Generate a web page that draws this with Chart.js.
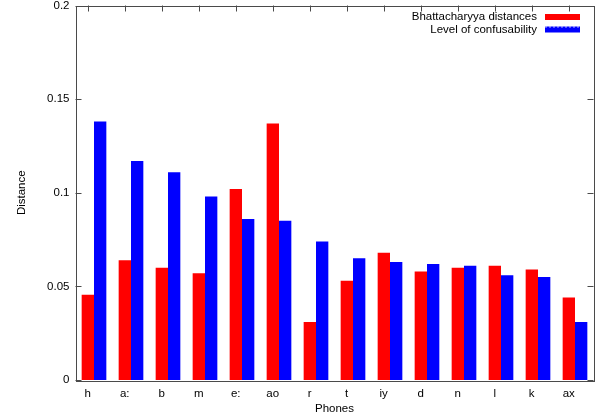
<!DOCTYPE html>
<html>
<head>
<meta charset="utf-8">
<script src="https://cdn.jsdelivr.net/npm/chart.js@4.4.0/dist/chart.umd.min.js"></script>
<style>
html,body{margin:0;padding:0;background:#fff;}
#wrap{width:605px;height:418px;}
</style>
</head>
<body>
<div id="wrap"><canvas id="c" width="605" height="418"></canvas></div>
<script>
const phones = ['h','a:','b','m','e:','ao','r','t','iy','d','n','l','k','ax'];
const bhattacharyya = [0.0455,0.064,0.060,0.057,0.102,0.137,0.031,0.053,0.068,0.058,0.060,0.061,0.059,0.044];
const confusability = [0.138,0.117,0.111,0.098,0.086,0.085,0.074,0.065,0.063,0.062,0.061,0.056,0.055,0.031];
const yTicks = [0,0.05,0.1,0.15,0.2];
const seriesNames = ['Bhattacharyya distances','Level of confusability'];

const FONT = '"Liberation Sans", Arial, Helvetica, sans-serif';
const FS = 11.5;
const LABEL_SHIFT = -6.3;

const framePlugin = {
  id:'frame',
  afterDraw(chart){
    const ctx = chart.ctx, a = chart.chartArea;
    const xs = chart.scales.x, ys = chart.scales.y;
    ctx.save();
    ctx.strokeStyle = '#4a4a4a';
    ctx.lineWidth = 1;
    ctx.beginPath();
    phones.forEach((p,i)=>{
      const x = Math.round(xs.getPixelForValue(i) + LABEL_SHIFT) + 0.5;
      ctx.moveTo(x, a.top); ctx.lineTo(x, a.top + 6);
    });
    yTicks.forEach(v=>{
      const y = Math.round(ys.getPixelForValue(v)) + 0.5;
      ctx.moveTo(a.left, y); ctx.lineTo(a.left + 6, y);
      ctx.moveTo(a.right, y); ctx.lineTo(a.right - 6, y);
    });
    ctx.stroke();
    ctx.strokeRect(Math.round(a.left)+0.5, Math.round(a.top)+0.5, Math.round(a.right-a.left), Math.round(a.bottom-a.top));
    ctx.fillStyle = '#000';
    ctx.font = FS + 'px ' + FONT;
    ctx.textAlign = 'center';
    ctx.textBaseline = 'middle';
    ctx.fillText('Phones', (a.left + a.right)/2, 408.5);
    ctx.save();
    ctx.translate(22, (a.top + a.bottom)/2);
    ctx.rotate(-Math.PI/2);
    ctx.fillText('Distance', 0, 0);
    ctx.restore();
    const rows = [{y:17, c:'#ff0000', dash:false},{y:29.5, c:'#0000ff', dash:true}];
    rows.forEach((r,i)=>{
      ctx.textAlign = 'right';
      ctx.fillStyle = '#000';
      ctx.fillText(seriesNames[i], 537, r.y);
      ctx.fillStyle = r.c;
      ctx.fillRect(545, r.y - 3, 35, 6);
      if (r.dash){
        ctx.strokeStyle = 'rgba(255,255,255,0.7)';
        ctx.setLineDash([2,2]);
        ctx.beginPath();
        ctx.moveTo(545, r.y - 2.5); ctx.lineTo(580, r.y - 2.5);
        ctx.stroke();
        ctx.setLineDash([]);
      }
    });
    ctx.restore();
  }
};

new Chart(document.getElementById('c'), {
  type:'bar',
  data:{
    labels: phones,
    datasets:[
      {label:seriesNames[0], data:bhattacharyya, backgroundColor:'#ff0000', borderWidth:0,
       categoryPercentage:0.667, barPercentage:1.0},
      {label:seriesNames[1], data:confusability, backgroundColor:'#0000ff', borderWidth:0,
       categoryPercentage:0.667, barPercentage:1.0}
    ]
  },
  plugins:[framePlugin],
  options:{
    responsive:false,
    animation:false,
    devicePixelRatio:1,
    layout:{padding:{left:0,right:11.5,top:5.5,bottom:0}},
    plugins:{legend:{display:false}, tooltip:{enabled:false}},
    scales:{
      x:{
        grid:{display:false, drawTicks:false},
        border:{display:false},
        ticks:{color:'#000', font:{family:FONT, size:FS}, padding:7, labelOffset:LABEL_SHIFT, maxRotation:0, autoSkip:false},
        afterFit(s){ s.height = 38; s.paddingLeft = 0; s.paddingRight = 0; }
      },
      y:{
        min:0, max:0.2,
        grid:{display:false, drawTicks:false},
        border:{display:false},
        afterBuildTicks(s){ s.ticks = yTicks.map(v=>({value:v})); },
        ticks:{color:'#000', font:{family:FONT, size:FS}, padding:6,
          callback:(v)=>String(Math.round(v*100)/100)},
        afterFit(s){ s.width = 75.5; s.paddingTop = 0; s.paddingBottom = 0; }
      }
    }
  }
});
</script>
</body>
</html>
